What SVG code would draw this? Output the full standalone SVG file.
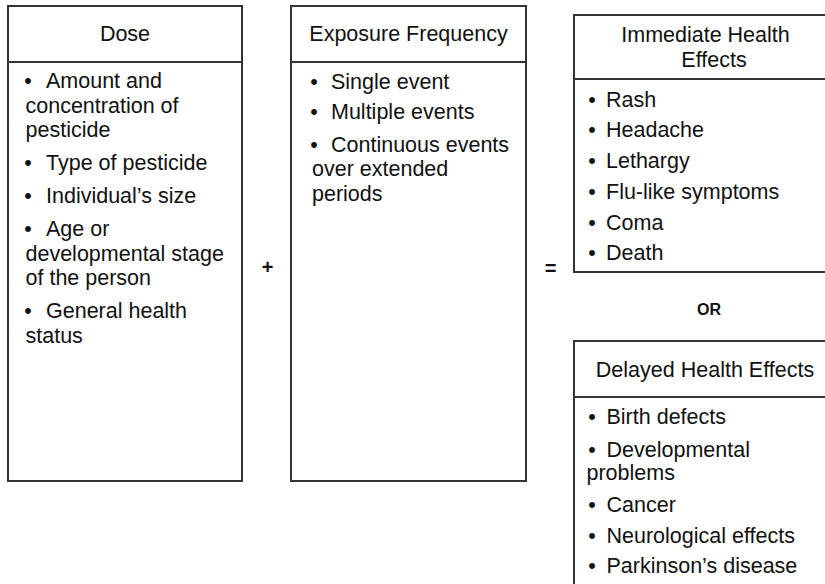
<svg xmlns="http://www.w3.org/2000/svg" width="825" height="584" viewBox="0 0 825 584">
<style>
.box{fill:#fff;stroke:#333;stroke-width:2}
.div{stroke:#333;stroke-width:2}
text{font-family:"Liberation Sans",Arial,sans-serif;font-size:21.5px;fill:#111}
.h{text-anchor:middle}
.b{text-anchor:middle}
.op{font-weight:bold;font-size:20px;text-anchor:middle}
.or{font-weight:bold;font-size:16px;text-anchor:middle}
</style>
<rect width="825" height="584" fill="#fff"/>
<g id="dose">
<rect class="box" x="8" y="6" width="234" height="475"/>
<line class="div" x1="8" y1="62" x2="242" y2="62"/>
<text class="h" x="125" y="41">Dose</text>
<text class="b" x="28" y="88">•</text><text x="46" y="88">Amount and</text>
<text x="25.5" y="112.5">concentration of</text>
<text x="25.5" y="137">pesticide</text>
<text class="b" x="28" y="170">•</text><text x="46" y="170">Type of pesticide</text>
<text class="b" x="28" y="203">•</text><text x="46" y="203">Individual’s size</text>
<text class="b" x="28" y="236">•</text><text x="46" y="236">Age or</text>
<text x="25.5" y="260.5">developmental stage</text>
<text x="25.5" y="285">of the person</text>
<text class="b" x="28" y="318">•</text><text x="46" y="318">General health</text>
<text x="25.5" y="342.5">status</text>
</g>
<g id="exposure">
<rect class="box" x="291" y="6" width="235" height="475"/>
<line class="div" x1="291" y1="62" x2="526" y2="62"/>
<text class="h" x="408.5" y="41">Exposure Frequency</text>
<text class="b" x="314" y="88.5">•</text><text x="331" y="88.5">Single event</text>
<text class="b" x="314" y="119.3">•</text><text x="331" y="119.3">Multiple events</text>
<text class="b" x="314" y="151.5">•</text><text x="331" y="151.5">Continuous events</text>
<text x="312" y="176">over extended</text>
<text x="312" y="200.5">periods</text>
</g>
<g id="immediate">
<rect class="box" x="574" y="15" width="270" height="257"/>
<line class="div" x1="574" y1="79" x2="844" y2="79"/>
<text class="h" x="705.5" y="42.3">Immediate Health</text>
<text class="h" x="714" y="66.7">Effects</text>
<text class="b" x="592" y="106.5">•</text><text x="606" y="106.5">Rash</text>
<text class="b" x="592" y="137.3">•</text><text x="606" y="137.3">Headache</text>
<text class="b" x="592" y="168">•</text><text x="606" y="168">Lethargy</text>
<text class="b" x="592" y="198.8">•</text><text x="606" y="198.8">Flu-like symptoms</text>
<text class="b" x="592" y="229.6">•</text><text x="606" y="229.6">Coma</text>
<text class="b" x="592" y="260.4">•</text><text x="606" y="260.4">Death</text>
</g>
<g id="or">
<text class="or" x="709" y="315">OR</text>
</g>
<g id="delayed">
<rect class="box" x="574" y="341" width="270" height="260"/>
<line class="div" x1="574" y1="397" x2="844" y2="397"/>
<text class="h" x="705" y="376.7">Delayed Health Effects</text>
<text class="b" x="592" y="424">•</text><text x="606.5" y="424">Birth defects</text>
<text class="b" x="592" y="456.7">•</text><text x="606.5" y="456.7">Developmental</text>
<text x="586.5" y="479.5">problems</text>
<text class="b" x="592" y="511.7">•</text><text x="606.5" y="511.7">Cancer</text>
<text class="b" x="592" y="543.3">•</text><text x="606.5" y="543.3">Neurological effects</text>
<text class="b" x="592" y="573.3">•</text><text x="606.5" y="573.3">Parkinson’s disease</text>
</g>
<g id="connectors">
<text class="op" x="267.7" y="273.7">+</text>
<text class="op" x="550.7" y="274.7">=</text>
</g>
</svg>
